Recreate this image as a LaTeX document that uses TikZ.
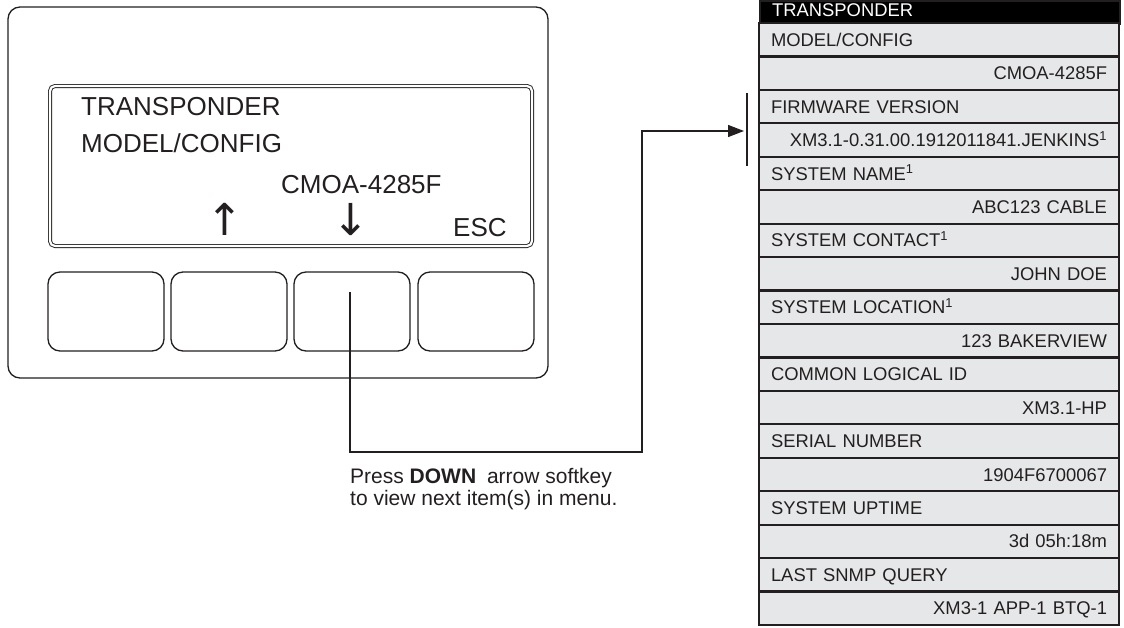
\documentclass[tikz,border=0pt]{standalone}
\usepackage{fontspec}
\setmainfont{Liberation Sans}
\newfontfamily\arrowfont{DejaVu Sans}
\usepackage{xcolor}
\usetikzlibrary{arrows.meta, positioning}
\definecolor{inkDark}{HTML}{231F20}
\definecolor{rowGray}{HTML}{E6E7E8}

\begin{document}
\begin{tikzpicture}[x=1pt, y=-1pt,
    panel/.style={draw=inkDark, line width=1.3pt, rounded corners=12pt, inner sep=0pt},
    lcd/.style={draw=inkDark, double=white, double distance=2.2pt, line width=0.9pt, rounded corners=5pt, inner sep=0pt},
    softkey/.style={draw=inkDark, line width=1.3pt, rounded corners=12pt, minimum width=116pt, minimum height=79pt, inner sep=0pt},
    lcdtext/.style={font=\fontsize{26}{30}\selectfont, text=inkDark, inner sep=0pt, anchor=base west},
    lcdarrow/.style={font=\arrowfont\fontsize{44}{44}\selectfont, text=inkDark, inner sep=0pt},
    menurow/.style={draw=inkDark, line width=2.2pt, fill=rowGray, minimum height=33.44pt, text width=336pt,
      inner xsep=12pt, inner ysep=0pt, text height=13.2pt, text depth=0pt, font=\fontsize{18.4}{22}\selectfont, text=inkDark},
    menuhead/.style={menurow, fill=black, text=white, minimum height=23pt, text depth=6pt, align=left},
    conn/.style={draw=inkDark, line width=1.3pt},
    notetext/.style={font=\fontsize{21}{25}\selectfont, text=inkDark, inner sep=0pt, anchor=base west}
  ]
  \useasboundingbox (0,0) rectangle (1124,627);

  % front panel
  \node[panel, minimum width=540pt, minimum height=371pt] (panel) at (278,192.5) {};
  \node[lcd, minimum width=482pt, minimum height=160pt] (screen) at (291,166) {};
  \node[softkey] (k1) at (106,311.5) {};
  \node[softkey] (k2) at (229,311.5) {};
  \node[softkey] (k3) at (352,311.5) {};
  \node[softkey] (k4) at (476,311.5) {};

  \node[lcdtext] (l1) at (81,115) {TRANSPONDER};
  \node[lcdtext] (l2) at (81,152) {MODEL/CONFIG};
  \node[lcdtext] (l3) at (281,193) {CMOA-4285F};
  \node[lcdarrow] (up) at (225,219) {↑};
  \node[lcdarrow] (down) at (351,220) {↓};
  \node[lcdtext] (esc) at (453,236) {ESC};

  % menu list
  \node[menuhead, anchor=north west] (head) at (759,0) {TRANSPONDER};
  \foreach \lbl/\val [count=\k from 0] in {
      {MODEL/CONFIG}/{CMOA-4285F},
      {FIRMWARE VERSION}/{XM3.1-0.31.00.1912011841.JENKINS\textsuperscript{1}},
      {SYSTEM NAME\textsuperscript{1}}/{ABC123 CABLE},
      {SYSTEM CONTACT\textsuperscript{1}}/{JOHN DOE},
      {SYSTEM LOCATION\textsuperscript{1}}/{123 BAKERVIEW},
      {COMMON LOGICAL ID}/{XM3.1-HP},
      {SERIAL NUMBER}/{1904F6700067},
      {SYSTEM UPTIME}/{3d 05h:18m},
      {LAST SNMP QUERY}/{XM3-1 APP-1 BTQ-1}}{
    \node[menurow, align=left] (lbl\k) at (939,{23+33.44*(2*\k+0.5)}) {\lbl};
    \node[menurow, align=right] (val\k) at (939,{23+33.44*(2*\k+1.5)}) {\val};
  }

  % connector
  \coordinate (press) at (350,292);
  \coordinate (bend) at (642,452);
  \coordinate (tip) at (744,131);
  \coordinate (barTop) at (747,93);
  \coordinate (barBot) at (747,166);
  \draw[conn, -{Triangle[length=16pt, width=12pt]}] (press) |- (bend) |- (tip);
  \draw[inkDark, line width=2.5pt] (barTop) -- (barBot);

  \node[notetext] (note1) at (350,483) {Press \textbf{DOWN}\hspace{5pt} arrow softkey};
  \node[notetext] (note2) at (350,505) {to view next item(s) in menu.};
\end{tikzpicture}
\end{document}
